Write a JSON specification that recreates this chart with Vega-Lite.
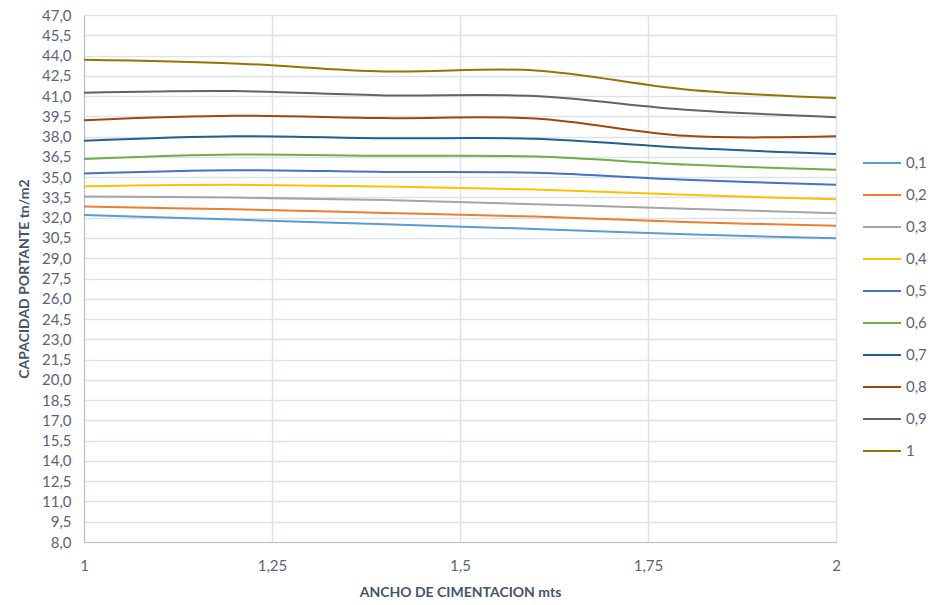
{
  "$schema": "https://vega.github.io/schema/vega-lite/v6.json",
  "autosize": {"type": "none"},
  "width": 752,
  "height": 527,
  "padding": {"left": 84, "top": 15, "right": 95, "bottom": 63},
  "background": "white",
  "data": {
    "values": [
      {"ancho": 1.0, "serie": "0,1", "q": 32.20},
      {"ancho": 1.2, "serie": "0,1", "q": 31.86},
      {"ancho": 1.4, "serie": "0,1", "q": 31.51},
      {"ancho": 1.6, "serie": "0,1", "q": 31.17},
      {"ancho": 1.8, "serie": "0,1", "q": 30.77},
      {"ancho": 2.0, "serie": "0,1", "q": 30.47},
      {"ancho": 1.0, "serie": "0,2", "q": 32.82},
      {"ancho": 1.2, "serie": "0,2", "q": 32.62},
      {"ancho": 1.4, "serie": "0,2", "q": 32.35},
      {"ancho": 1.6, "serie": "0,2", "q": 32.08},
      {"ancho": 1.8, "serie": "0,2", "q": 31.68},
      {"ancho": 2.0, "serie": "0,2", "q": 31.41},
      {"ancho": 1.0, "serie": "0,3", "q": 33.56},
      {"ancho": 1.2, "serie": "0,3", "q": 33.49},
      {"ancho": 1.4, "serie": "0,3", "q": 33.31},
      {"ancho": 1.6, "serie": "0,3", "q": 32.99},
      {"ancho": 1.8, "serie": "0,3", "q": 32.67},
      {"ancho": 2.0, "serie": "0,3", "q": 32.32},
      {"ancho": 1.0, "serie": "0,4", "q": 34.32},
      {"ancho": 1.2, "serie": "0,4", "q": 34.43},
      {"ancho": 1.4, "serie": "0,4", "q": 34.30},
      {"ancho": 1.6, "serie": "0,4", "q": 34.08},
      {"ancho": 1.8, "serie": "0,4", "q": 33.69},
      {"ancho": 2.0, "serie": "0,4", "q": 33.36},
      {"ancho": 1.0, "serie": "0,5", "q": 35.27},
      {"ancho": 1.2, "serie": "0,5", "q": 35.51},
      {"ancho": 1.4, "serie": "0,5", "q": 35.39},
      {"ancho": 1.6, "serie": "0,5", "q": 35.32},
      {"ancho": 1.8, "serie": "0,5", "q": 34.80},
      {"ancho": 2.0, "serie": "0,5", "q": 34.43},
      {"ancho": 1.0, "serie": "0,6", "q": 36.35},
      {"ancho": 1.2, "serie": "0,6", "q": 36.67},
      {"ancho": 1.4, "serie": "0,6", "q": 36.58},
      {"ancho": 1.6, "serie": "0,6", "q": 36.53},
      {"ancho": 1.8, "serie": "0,6", "q": 35.93},
      {"ancho": 2.0, "serie": "0,6", "q": 35.54},
      {"ancho": 1.0, "serie": "0,7", "q": 37.69},
      {"ancho": 1.2, "serie": "0,7", "q": 38.03},
      {"ancho": 1.4, "serie": "0,7", "q": 37.88},
      {"ancho": 1.6, "serie": "0,7", "q": 37.84},
      {"ancho": 1.8, "serie": "0,7", "q": 37.17},
      {"ancho": 2.0, "serie": "0,7", "q": 36.72},
      {"ancho": 1.0, "serie": "0,8", "q": 39.22},
      {"ancho": 1.2, "serie": "0,8", "q": 39.54},
      {"ancho": 1.4, "serie": "0,8", "q": 39.37},
      {"ancho": 1.6, "serie": "0,8", "q": 39.34},
      {"ancho": 1.8, "serie": "0,8", "q": 38.06},
      {"ancho": 2.0, "serie": "0,8", "q": 38.03},
      {"ancho": 1.0, "serie": "0,9", "q": 41.25},
      {"ancho": 1.2, "serie": "0,9", "q": 41.37},
      {"ancho": 1.4, "serie": "0,9", "q": 41.05},
      {"ancho": 1.6, "serie": "0,9", "q": 41.00},
      {"ancho": 1.8, "serie": "0,9", "q": 39.99},
      {"ancho": 2.0, "serie": "0,9", "q": 39.44},
      {"ancho": 1.0, "serie": "1", "q": 43.69},
      {"ancho": 1.2, "serie": "1", "q": 43.42},
      {"ancho": 1.4, "serie": "1", "q": 42.82},
      {"ancho": 1.6, "serie": "1", "q": 42.90},
      {"ancho": 1.8, "serie": "1", "q": 41.49},
      {"ancho": 2.0, "serie": "1", "q": 40.85}
    ]
  },
  "mark": {"type": "line", "interpolate": "cardinal", "tension": 0, "strokeWidth": 2},
  "encoding": {
    "x": {
      "field": "ancho",
      "type": "quantitative",
      "scale": {"domain": [1, 2], "nice": false, "zero": false},
      "axis": {
        "title": "ANCHO DE CIMENTACION mts",
        "values": [1, 1.25, 1.5, 1.75, 2],
        "labelExpr": "replace(format(datum.value, '~g'), '.', ',')",
        "labelFlush": false,
        "ticks": false,
        "labelPadding": 16,
        "titlePadding": 12,
        "grid": true,
        "domainColor": "#bfc4cc"
      }
    },
    "y": {
      "field": "q",
      "type": "quantitative",
      "scale": {"domain": [8, 47], "nice": false, "zero": false},
      "axis": {
        "title": "CAPACIDAD PORTANTE tn/m2",
        "values": [8, 9.5, 11, 12.5, 14, 15.5, 17, 18.5, 20, 21.5, 23, 24.5, 26, 27.5, 29, 30.5, 32, 33.5, 35, 36.5, 38, 39.5, 41, 42.5, 44, 45.5, 47],
        "labelExpr": "replace(format(datum.value, '.1f'), '.', ',')",
        "ticks": false,
        "labelPadding": 13,
        "titlePadding": 10,
        "grid": true,
        "domainColor": "#b4bdcc"
      }
    },
    "color": {
      "field": "serie",
      "type": "nominal",
      "scale": {
        "domain": ["0,1", "0,2", "0,3", "0,4", "0,5", "0,6", "0,7", "0,8", "0,9", "1"],
        "range": ["#5B9BD5", "#ED7D31", "#A5A5A5", "#FFC000", "#4472C4", "#70AD47", "#255E91", "#9E480E", "#636363", "#997300"]
      },
      "legend": {
        "title": null,
        "orient": "none",
        "legendX": 778,
        "legendY": 128,
        "symbolType": "stroke",
        "symbolSize": 1444,
        "symbolStrokeWidth": 2,
        "labelOffset": 4,
        "rowPadding": 4
      }
    }
  },
  "config": {
    "view": {"stroke": "#dde2ea"},
    "axis": {
      "labelFont": "Lato",
      "labelFontSize": 15,
      "labelColor": "#5b6578",
      "titleFont": "Lato",
      "titleFontSize": 14,
      "titleFontWeight": "bold",
      "titleColor": "#44546a",
      "gridColor": "#dde2ea",
      "gridWidth": 1.5,
      "gridOpacity": 1
    },
    "legend": {
      "labelFont": "Lato",
      "labelFontSize": 15,
      "labelColor": "#5b6578"
    }
  }
}
